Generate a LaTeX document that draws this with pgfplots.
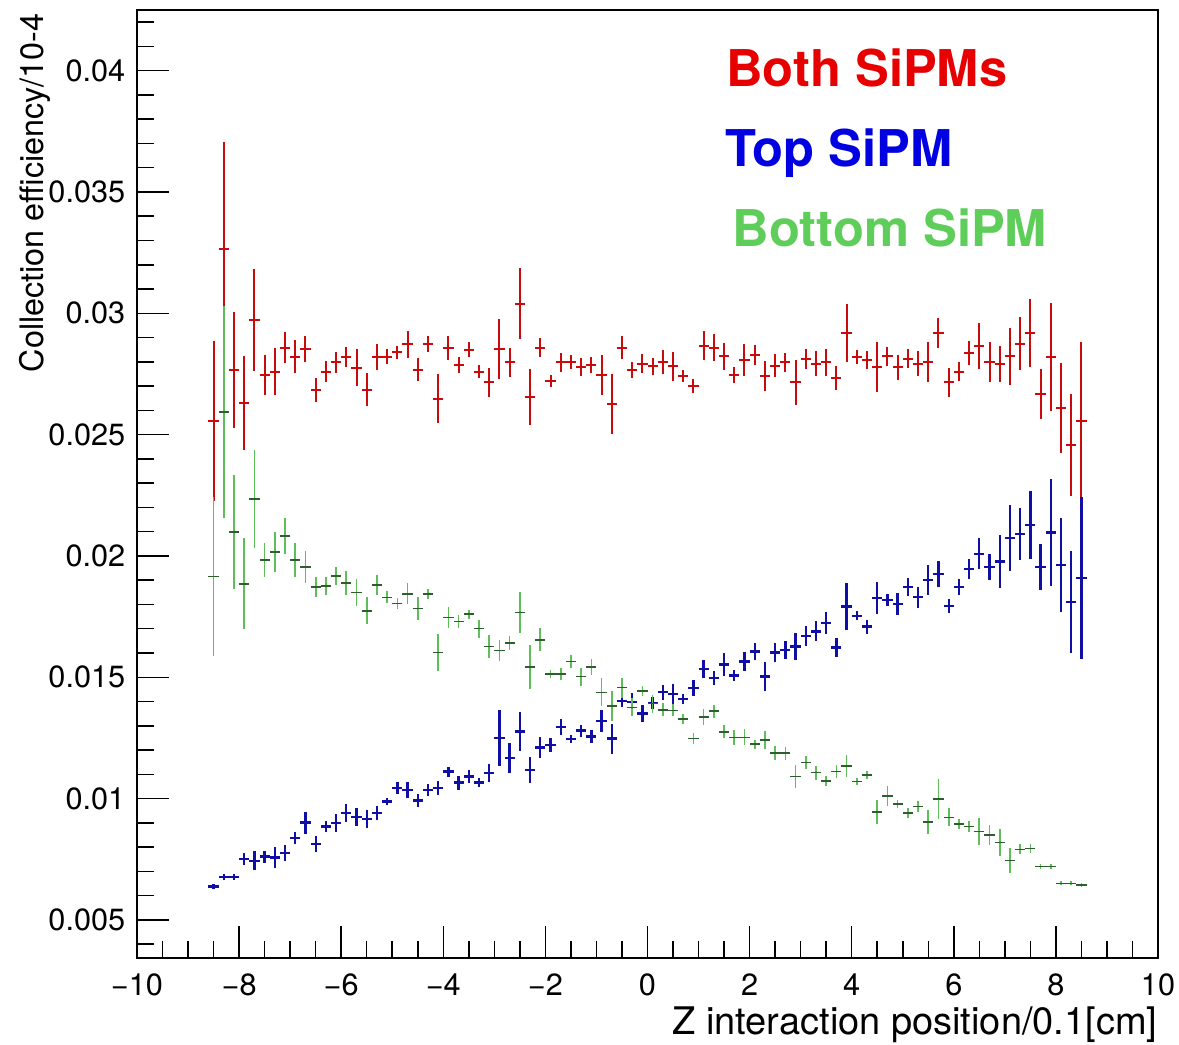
\documentclass[border=0pt]{standalone}
\usepackage{fontspec}
\setmainfont{TeX Gyre Heros}
\usepackage{pgfplots}
\pgfplotsset{compat=1.18}
\usepackage{pgfplotstable}

\definecolor{txtred}{RGB}{230,0,0}
\definecolor{txtblue}{RGB}{0,0,225}
\definecolor{txtgreen}{RGB}{95,205,90}
\definecolor{barred}{RGB}{200,10,10}
\definecolor{barblue}{RGB}{15,15,165}
\definecolor{bargreen}{RGB}{95,190,90}
\definecolor{markgreen}{RGB}{45,95,45}

% x = bin centre, y = efficiency, e = error
\pgfplotstableread{
x y e
-8.5 0.02557 0.00330
-8.3 0.03265 0.00440
-8.1 0.02767 0.00238
-7.9 0.02631 0.00194
-7.7 0.02971 0.00210
-7.5 0.02746 0.00081
-7.3 0.02760 0.00096
-7.1 0.02859 0.00063
-6.9 0.02821 0.00067
-6.7 0.02853 0.00052
-6.5 0.02685 0.00050
-6.3 0.02760 0.00043
-6.1 0.02798 0.00043
-5.9 0.02820 0.00041
-5.7 0.02776 0.00077
-5.5 0.02685 0.00069
-5.3 0.02820 0.00054
-5.1 0.02820 0.00031
-4.9 0.02839 0.00028
-4.7 0.02873 0.00056
-4.5 0.02767 0.00048
-4.3 0.02873 0.00034
-4.1 0.02647 0.00101
-3.9 0.02857 0.00048
-3.7 0.02788 0.00033
-3.5 0.02850 0.00031
-3.3 0.02760 0.00026
-3.1 0.02715 0.00060
-2.9 0.02853 0.00124
-2.7 0.02798 0.00060
-2.5 0.03040 0.00146
-2.3 0.02655 0.00117
-2.1 0.02859 0.00041
-1.9 0.02722 0.00025
-1.7 0.02798 0.00040
-1.5 0.02798 0.00029
-1.3 0.02777 0.00037
-1.1 0.02788 0.00033
-0.9 0.02747 0.00082
-0.7 0.02626 0.00122
-0.5 0.02859 0.00048
-0.3 0.02767 0.00034
-0.1 0.02792 0.00040
0.1 0.02781 0.00034
0.3 0.02799 0.00048
0.5 0.02781 0.00058
0.7 0.02740 0.00025
0.9 0.02701 0.00028
1.1 0.02866 0.00060
1.3 0.02859 0.00055
1.5 0.02822 0.00055
1.7 0.02747 0.00033
1.9 0.02809 0.00066
2.1 0.02829 0.00041
2.3 0.02740 0.00062
2.5 0.02784 0.00048
2.7 0.02798 0.00040
2.9 0.02715 0.00093
3.1 0.02813 0.00041
3.3 0.02792 0.00052
3.5 0.02798 0.00055
3.7 0.02733 0.00048
3.9 0.02919 0.00120
4.1 0.02820 0.00030
4.3 0.02809 0.00037
4.5 0.02777 0.00103
4.7 0.02822 0.00041
4.9 0.02777 0.00052
5.1 0.02813 0.00039
5.3 0.02792 0.00052
5.5 0.02798 0.00082
5.7 0.02919 0.00062
5.9 0.02715 0.00058
6.1 0.02760 0.00041
6.3 0.02836 0.00049
6.5 0.02866 0.00096
6.7 0.02798 0.00082
6.9 0.02792 0.00074
7.1 0.02822 0.00116
7.3 0.02875 0.00108
7.5 0.02919 0.00139
7.7 0.02668 0.00103
7.9 0.02820 0.00221
8.1 0.02610 0.00186
8.3 0.02458 0.00210
8.5 0.02557 0.00323
}\bothtab

\pgfplotstableread{
x y e
-8.5 0.00637 0.00010
-8.3 0.00676 0.00012
-8.1 0.00676 0.00012
-7.9 0.00751 0.00025
-7.7 0.00744 0.00039
-7.5 0.00761 0.00025
-7.3 0.00757 0.00043
-7.1 0.00775 0.00033
-6.9 0.00837 0.00025
-6.7 0.00901 0.00045
-6.5 0.00813 0.00033
-6.3 0.00885 0.00023
-6.1 0.00899 0.00036
-5.9 0.00940 0.00037
-5.7 0.00923 0.00037
-5.5 0.00915 0.00037
-5.3 0.00940 0.00029
-5.1 0.00988 0.00014
-4.9 0.01043 0.00025
-4.7 0.01036 0.00033
-4.5 0.00992 0.00025
-4.3 0.01036 0.00025
-4.1 0.01043 0.00029
-3.9 0.01111 0.00021
-3.7 0.01066 0.00029
-3.5 0.01091 0.00027
-3.3 0.01066 0.00019
-3.1 0.01105 0.00036
-2.9 0.01249 0.00115
-2.7 0.01167 0.00062
-2.5 0.01276 0.00080
-2.3 0.01118 0.00052
-2.1 0.01210 0.00043
-1.9 0.01221 0.00029
-1.7 0.01294 0.00034
-1.5 0.01245 0.00015
-1.3 0.01280 0.00025
-1.1 0.01256 0.00026
-0.9 0.01320 0.00047
-0.7 0.01247 0.00062
-0.5 0.01403 0.00025
-0.3 0.01398 0.00037
-0.1 0.01350 0.00034
0.1 0.01395 0.00025
0.3 0.01438 0.00031
0.5 0.01430 0.00043
0.7 0.01411 0.00022
0.9 0.01455 0.00033
1.1 0.01533 0.00037
1.3 0.01498 0.00028
1.5 0.01553 0.00049
1.7 0.01507 0.00024
1.9 0.01565 0.00041
2.1 0.01606 0.00034
2.3 0.01503 0.00059
2.5 0.01602 0.00040
2.7 0.01613 0.00036
2.9 0.01627 0.00054
3.1 0.01671 0.00041
3.3 0.01689 0.00041
3.5 0.01723 0.00045
3.7 0.01623 0.00039
3.9 0.01792 0.00096
4.1 0.01753 0.00019
4.3 0.01709 0.00029
4.5 0.01826 0.00065
4.7 0.01819 0.00025
4.9 0.01803 0.00045
5.1 0.01872 0.00039
5.3 0.01830 0.00043
5.5 0.01902 0.00062
5.7 0.01925 0.00055
5.9 0.01794 0.00028
6.1 0.01872 0.00031
6.3 0.01946 0.00041
6.5 0.02009 0.00064
6.7 0.01954 0.00052
6.9 0.01977 0.00108
7.1 0.02074 0.00137
7.3 0.02091 0.00106
7.5 0.02128 0.00139
7.7 0.01954 0.00095
7.9 0.02097 0.00220
8.1 0.01963 0.00194
8.3 0.01810 0.00212
8.5 0.01909 0.00332
}\toptab

\pgfplotstableread{
x y e
-8.5 0.01915 0.00326
-8.3 0.02593 0.00437
-8.1 0.02098 0.00235
-7.9 0.01885 0.00188
-7.7 0.02234 0.00202
-7.5 0.01984 0.00071
-7.3 0.02016 0.00081
-7.1 0.02083 0.00075
-6.9 0.01984 0.00070
-6.7 0.01954 0.00066
-6.5 0.01872 0.00043
-6.3 0.01877 0.00036
-6.1 0.01918 0.00037
-5.9 0.01888 0.00048
-5.7 0.01849 0.00054
-5.5 0.01774 0.00055
-5.3 0.01881 0.00041
-5.1 0.01829 0.00025
-4.9 0.01803 0.00023
-4.7 0.01844 0.00043
-4.5 0.01783 0.00048
-4.3 0.01843 0.00021
-4.1 0.01602 0.00078
-3.9 0.01746 0.00042
-3.7 0.01730 0.00025
-3.5 0.01760 0.00019
-3.3 0.01700 0.00037
-3.1 0.01627 0.00048
-2.9 0.01610 0.00045
-2.7 0.01641 0.00029
-2.5 0.01767 0.00084
-2.3 0.01542 0.00089
-2.1 0.01654 0.00047
-1.9 0.01513 0.00016
-1.7 0.01513 0.00025
-1.5 0.01565 0.00026
-1.3 0.01503 0.00037
-1.1 0.01542 0.00034
-0.9 0.01438 0.00058
-0.7 0.01382 0.00063
-0.5 0.01457 0.00041
-0.3 0.01376 0.00037
-0.1 0.01443 0.00021
0.1 0.01391 0.00037
0.3 0.01366 0.00027
0.5 0.01364 0.00025
0.7 0.01328 0.00021
0.9 0.01248 0.00022
1.1 0.01337 0.00033
1.3 0.01360 0.00026
1.5 0.01275 0.00027
1.7 0.01252 0.00031
1.9 0.01252 0.00033
2.1 0.01224 0.00019
2.3 0.01242 0.00037
2.5 0.01187 0.00029
2.7 0.01187 0.00027
2.9 0.01091 0.00048
3.1 0.01149 0.00027
3.3 0.01107 0.00029
3.5 0.01073 0.00022
3.7 0.01111 0.00027
3.9 0.01135 0.00045
4.1 0.01070 0.00014
4.3 0.01098 0.00016
4.5 0.00944 0.00049
4.7 0.01011 0.00041
4.9 0.00978 0.00016
5.1 0.00940 0.00021
5.3 0.00967 0.00021
5.5 0.00903 0.00048
5.7 0.00999 0.00082
5.9 0.00923 0.00037
6.1 0.00895 0.00022
6.3 0.00885 0.00023
6.5 0.00864 0.00054
6.7 0.00850 0.00043
6.9 0.00819 0.00054
7.1 0.00744 0.00052
7.3 0.00791 0.00021
7.5 0.00795 0.00019
7.7 0.00720 0.00012
7.9 0.00720 0.00012
8.1 0.00651 0.00008
8.3 0.00651 0.00008
8.5 0.00644 0.00008
}\bottomtab

\begin{document}
\begin{tikzpicture}
\begin{axis}[
  scale only axis,
  width=306.3pt, height=284.4pt,
  xmin=-10, xmax=10,
  ymin=0.00343, ymax=0.0425,
  scaled y ticks=false, scaled x ticks=false,
  xtick={-10,-8,-6,-4,-2,0,2,4,6,8,10},
  xticklabels={−10,−8,−6,−4,−2,0,2,4,6,8,10},
  minor xtick={-9.5,-9,...,9.5},
  ytick={0.005,0.01,0.015,0.02,0.025,0.03,0.035,0.04},
  yticklabels={0.005,0.01,0.015,0.02,0.025,0.03,0.035,0.04},
  minor ytick={0.004,0.005,...,0.0425},
  xtick pos=bottom, ytick pos=left,
  tick align=inside,
  major tick length=9.6pt, minor tick length=5pt,
  every tick/.style={black, line width=0.45pt},
  axis line style={line width=0.6pt},
  ticklabel style={font=\fontsize{9.2}{11}\selectfont},
  xticklabel style={yshift=-1.2pt},
  xlabel={Z interaction position/0.1[cm]},
  xlabel style={font=\fontsize{11.4}{13}\selectfont, inner sep=0pt, at={(axis description cs:1,-0.0812)}, anchor=base east},
  ylabel={Collection efficiency/10-4},
  ylabel style={font=\fontsize{9.7}{12}\selectfont, inner sep=0pt, at={(axis description cs:-0.0918,0.997)}, rotate=0, anchor=base east},
  error bars/error mark=none,
]
\addplot[draw=none, mark=none, error bars/.cd, x dir=both, x fixed=0.1, y dir=both, y explicit,
  error bar style={draw=barred, line width=0.6pt}]
  table[x=x, y=y, y error=e] {\bothtab};
\addplot[draw=none, mark=none, error bars/.cd, x dir=both, x fixed=0.1, y dir=both, y explicit,
  error bar style={draw=barblue, line width=0.7pt}]
  table[x=x, y=y, y error=e] {\toptab};
\addplot[draw=none, mark=none, error bars/.cd, y dir=both, y explicit,
  error bar style={draw=bargreen, line width=0.5pt}]
  table[x=x, y=y, y error=e] {\bottomtab};
\addplot[draw=none, mark=none, error bars/.cd, x dir=both, x fixed=0.1,
  error bar style={draw=markgreen, line width=0.45pt}]
  table[x=x, y=y] {\bottomtab};

\node[anchor=base west, inner sep=0pt, text=txtred, font=\fontsize{15.2}{18}\bfseries] at (axis cs:1.53,0.03933) {Both SiPMs};
\node[anchor=base west, inner sep=0pt, text=txtblue, font=\fontsize{15.2}{18}\bfseries] at (axis cs:1.51,0.03606) {Top SiPM};
\node[anchor=base west, inner sep=0pt, text=txtgreen, font=\fontsize{15.2}{18}\bfseries] at (axis cs:1.66,0.03276) {Bottom SiPM};
\end{axis}
\pgfresetboundingbox
\path[use as bounding box] (current axis.south west) ++(-41.1pt,-26.1pt) rectangle ++(353.7pt,313.5pt);
\end{tikzpicture}
\end{document}
